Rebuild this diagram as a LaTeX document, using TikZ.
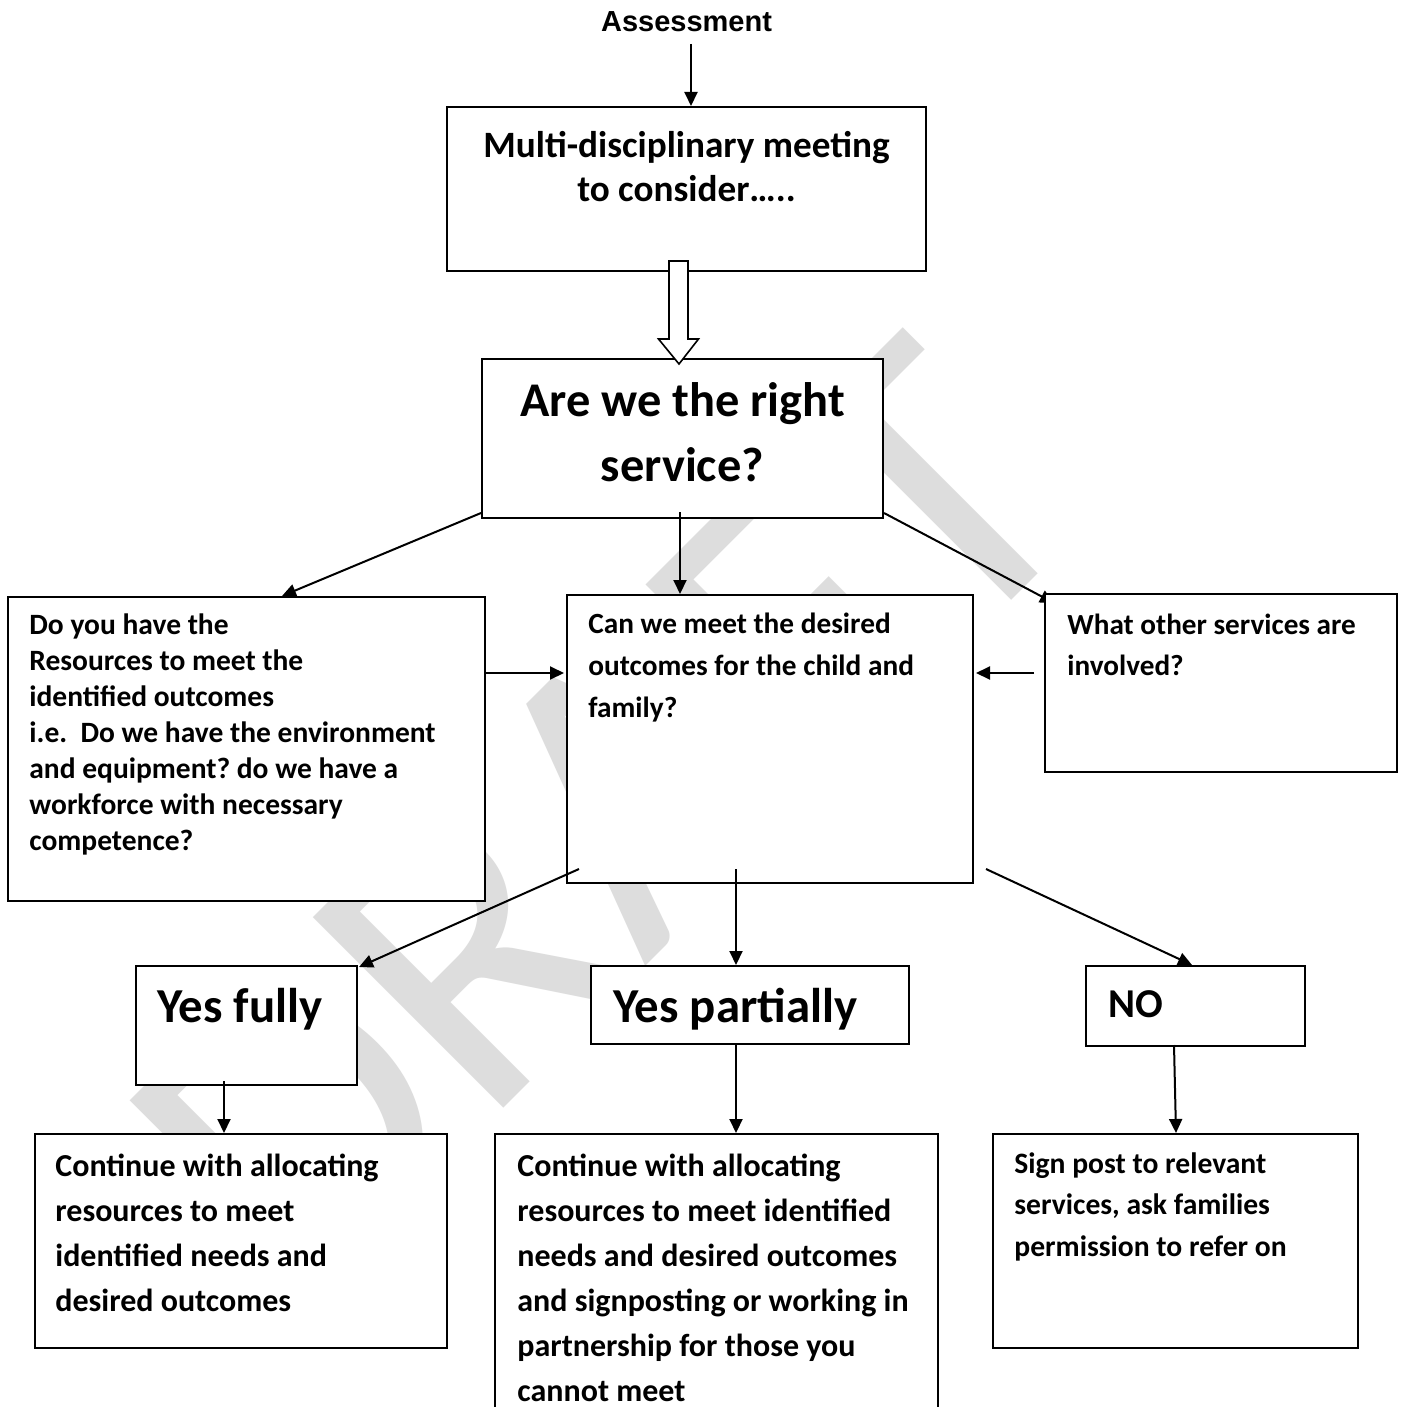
\documentclass[tikz,border=0pt]{standalone}
\usepackage{fontspec}
\setmainfont{Carlito}
\newfontfamily\arialfont{Liberation Sans}
\usetikzlibrary{arrows.meta,calc,backgrounds}
\frenchspacing
\begin{document}
\begin{tikzpicture}[x=0.5pt,y=-0.5pt,
  box/.style={draw=black, line width=1pt, fill=white, rectangle, inner sep=0pt},
  txt/.style={anchor=base west, inner sep=0pt},
  ctxt/.style={anchor=center, inner sep=0pt, align=center},
  arr/.style={line width=1pt, -{Triangle[length=7pt,width=6.5pt]}},
  hollow/.style={draw=black, line width=0.8pt, fill=white, line join=miter},
  wm/.style={text=gray!27, inner sep=0pt, anchor=base west, rotate=45,
    font=\fontsize{210}{210}\selectfont}
]
\useasboundingbox (0,0) rectangle (1405,1407);
\clip (0,0) rectangle (1405,1407);

% boxes
\node[box, minimum width=239.5pt, minimum height=82pt] (multi) at (686.5,189) {};
\node[box, minimum width=200.5pt, minimum height=79.5pt] (are) at (682.5,438.5) {};
\node[box, minimum width=238.5pt, minimum height=152pt] (left) at (246.5,749) {};
\node[box, minimum width=203pt, minimum height=144pt] (mid) at (770,739) {};
\node[box, minimum width=176pt, minimum height=89pt] (right) at (1221,683) {};
\node[box, minimum width=110.5pt, minimum height=59.5pt] (yf) at (246.5,1025.5) {};
\node[box, minimum width=159pt, minimum height=39pt] (yp) at (750,1005) {};
\node[box, minimum width=109.5pt, minimum height=40pt] (no) at (1195.5,1006) {};
\node[box, minimum width=206pt, minimum height=107pt] (bl) at (241,1241) {};
\node[box, minimum width=221.5pt, minimum height=148pt] (bm) at (716.5,1282) {};
\node[box, minimum width=182.5pt, minimum height=107pt] (br) at (1175.5,1241) {};

\begin{scope}[on background layer]
  \fill[white] (0,0) rectangle (1405,1407);
  \node[wm] (draft) at (300,1312) {DRAFT};
  \draw[arr] ($(are.south east)+(0,-6)$) -- ($(right.north west)+(10,10)$);
\end{scope}

% hollow block arrow
\coordinate (htip) at ($(are.north)+(-3.5,6)$);
\draw[hollow] (htip) -- ++(-20.5,-25) -- ++(10.5,0) -- ++(0,-78) -- ++(19,0)
  -- ++(0,78) -- ++(10.5,0) -- cycle;

% texts
\node[ctxt, font=\arialfont\bfseries\fontsize{14.5}{17}\selectfont] (ass) at (686.5,22) {Assessment};
\node[ctxt, font=\bfseries\fontsize{18.6}{22}\selectfont] (tmulti) at (686.5,167)
  {Multi-disciplinary meeting\\to consider\ldots..};
\node[ctxt, font=\bfseries\fontsize{24.2}{32.5}\selectfont] (tare) at (682.5,432)
  {Are we the right\\service?};

\node[txt, font=\bfseries\fontsize{14.75}{18}\selectfont] (tleft) at (29,634)
  {\vtop{\hbox{Do you have the}\hbox{Resources to meet the}\hbox{identified outcomes}%
  \hbox{i.e.\ \ Do we have the environment}\hbox{and equipment? do we have a}%
  \hbox{workforce with necessary}\hbox{competence?}}};
\node[txt, font=\bfseries\fontsize{14.65}{21}\selectfont] (tmid) at (588,633)
  {\vtop{\hbox{Can we meet the desired}\hbox{outcomes for the child and}\hbox{family?}}};
\node[txt, font=\bfseries\fontsize{14.6}{20.5}\selectfont] (tright) at (1067,634)
  {\vtop{\hbox{What other services are}\hbox{involved?}}};
\node[txt, font=\bfseries\fontsize{24.4}{28}\selectfont] (tyf) at (157,1022) {Yes fully};
\node[txt, font=\bfseries\fontsize{24.4}{28}\selectfont] (typ) at (613,1022) {Yes partially};
\node[txt, font=\bfseries\fontsize{20.5}{24}\selectfont] (tno) at (1108,1017) {NO};
\node[txt, font=\bfseries\fontsize{16}{22.5}\selectfont] (tbl) at (55,1176)
  {\vtop{\hbox{Continue with allocating}\hbox{resources to meet}\hbox{identified needs and}%
  \hbox{desired outcomes}}};
\node[txt, font=\bfseries\fontsize{16}{22.5}\selectfont] (tbm) at (517,1176)
  {\vtop{\hbox{Continue with allocating}\hbox{resources to meet identified}%
  \hbox{needs and desired outcomes}\hbox{and signposting or working in}%
  \hbox{partnership for those you}\hbox{cannot meet}}};
\node[txt, font=\bfseries\fontsize{14.8}{20.75}\selectfont] (tbr) at (1014,1173)
  {\vtop{\hbox{Sign post to relevant}\hbox{services, ask families}\hbox{permission to refer on}}};

% connectors
\draw[arr] ($(multi.north)+(4.5,-62)$) -- ($(multi.north)+(4.5,0)$);
\draw[arr] ($(are.south west)+(0,-6)$) -- ($(left.north west)+(275,0)$);
\draw[arr] ($(are.south)+(-2.5,-7)$) -- ($(mid.north)+(-90,0)$);
\draw[arr] ($(left.north east)+(-2,77)$) -- ($(mid.north west)+(-2,79)$);
\draw[arr] ($(right.north west)+(-10,80)$) -- ($(mid.north east)+(2,79)$);
\draw[arr] ($(mid.south west)+(13,-15)$) -- ($(yf.north east)+(1,2)$);
\draw[arr] ($(mid.south west)+(170,-15)$) -- ($(yp.north west)+(146,0)$);
\draw[arr] ($(mid.south east)+(12,-15)$) -- ($(no.north west)+(107,0)$);
\draw[arr] ($(yf.south west)+(89,-5)$) -- ($(bl.north west)+(190,0)$);
\draw[arr] ($(yp.south west)+(146,0)$) -- ($(bm.north west)+(242,0)$);
\draw[arr] ($(no.south west)+(89,-2)$) -- ($(br.north west)+(184,0)$);
\end{tikzpicture}
\end{document}
